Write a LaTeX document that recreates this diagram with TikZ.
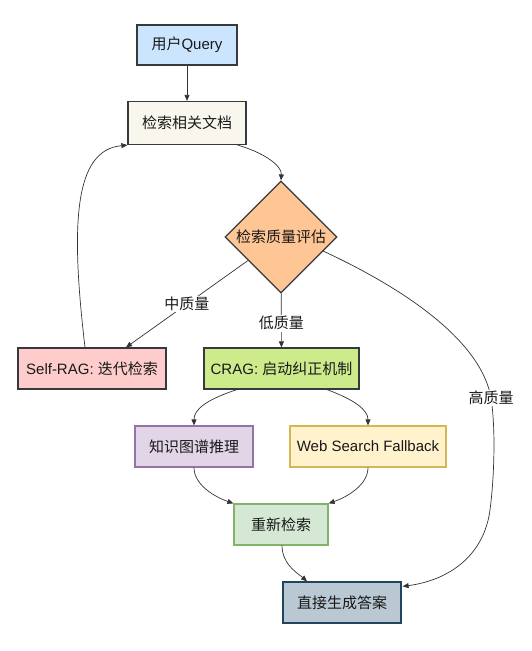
\documentclass[tikz,border=0pt]{standalone}
\usepackage{fontspec}
\setmainfont{Liberation Sans}
\newfontfamily\cjk{Noto Sans CJK SC}
\usetikzlibrary{shapes.geometric,arrows.meta}
\definecolor{darkln}{HTML}{36393D}
\definecolor{edgec}{HTML}{333333}
\definecolor{qfill}{HTML}{CCE5FF}
\definecolor{sfill}{HTML}{F9F7ED}
\definecolor{dfill}{HTML}{FFC695}
\definecolor{srfill}{HTML}{FFCCCC}
\definecolor{crfill}{HTML}{CDEB8B}
\definecolor{kgfill}{HTML}{E1D5E7}
\definecolor{kgline}{HTML}{9673A6}
\definecolor{wbfill}{HTML}{FFF2CC}
\definecolor{wbline}{HTML}{D6B656}
\definecolor{refill}{HTML}{D5E8D4}
\definecolor{reline}{HTML}{82B366}
\definecolor{anfill}{HTML}{BAC8D3}
\definecolor{anline}{HTML}{23445D}
\begin{document}
\begin{tikzpicture}[x=1pt,y=-1pt,
  font=\fontsize{15}{17.5}\selectfont,
  box/.style={draw=darkln, line width=1.2pt, minimum height=41pt, inner sep=0pt, text=black!90},
  edge/.style={draw=edgec, line width=0.7pt, -{Triangle[length=6pt,width=5pt]}},
  lbl/.style={fill=white, inner sep=1.5pt, text=black!90}]
\useasboundingbox (0,0) rectangle (531,651);

\node[box, fill=qfill, minimum width=100pt, minimum height=40pt] (q) at (187,45) {{\cjk 用户}Query};
\node[box, fill=sfill, minimum width=118pt, minimum height=43pt] (s) at (187,123) {\cjk 检索相关文档};
\node[diamond, draw=darkln, line width=1.2pt, fill=dfill, minimum width=112pt, minimum height=112pt, inner sep=0pt, text=black!90] (d) at (281,237) {\cjk 检索质量评估};
\node[box, fill=srfill, minimum width=148pt] (sr) at (92,368.5) {Self-RAG: {\cjk 迭代检索}};
\node[box, fill=crfill, minimum width=155pt] (cr) at (281.5,368.5) {CRAG: {\cjk 启动纠正机制}};
\node[box, fill=kgfill, draw=kgline, minimum width=118pt] (kg) at (194,446.5) {\cjk 知识图谱推理};
\node[box, fill=wbfill, draw=wbline, minimum width=156pt] (wb) at (368,446.5) {Web Search Fallback};
\node[box, fill=refill, draw=reline, minimum width=94pt] (re) at (281,524.5) {\cjk 重新检索};
\node[box, fill=anfill, draw=anline, minimum width=118pt] (an) at (342,602.5) {\cjk 直接生成答案};

\draw[edge] (q) -- (s);
\draw[edge] ([xshift=-9pt]s.south east) .. controls (262,152) and (282,165) .. (d.north);
\draw[edge] (d) -- ([xshift=34pt]sr.north) node[lbl, midway] {\cjk 中质量};
\draw[edge] (d) -- (cr) node[lbl, pos=0.55] {\cjk 低质量};
\draw[edge] ([xshift=-7pt]sr.north) .. controls (70,220) and (75,150) .. (s.south west);
\draw[edge] ([shift={(42,14)}]d.center) .. controls (390,282) and (480,335) .. (491,398) node[lbl] {\cjk 高质量}
  .. controls (496,430) and (494,480) .. (490,510)
  .. controls (484,555) and (450,580) .. ([shift={(1,5)}]an.north east);
\draw[edge] ([xshift=-44.5pt]cr.south) .. controls (205,400) and (194,410) .. (kg.north);
\draw[edge] ([xshift=45.5pt]cr.south) .. controls (355,400) and (368,410) .. (wb.north);
\draw[edge] (kg.south) .. controls (194,485) and (215,497) .. (re.north west);
\draw[edge] (wb.south) .. controls (368,485) and (347,497) .. (re.north east);
\draw[edge] ([xshift=1pt]re.south) .. controls (282,565) and (300,575) .. ([xshift=-35pt]an.north);
\end{tikzpicture}
\end{document}
